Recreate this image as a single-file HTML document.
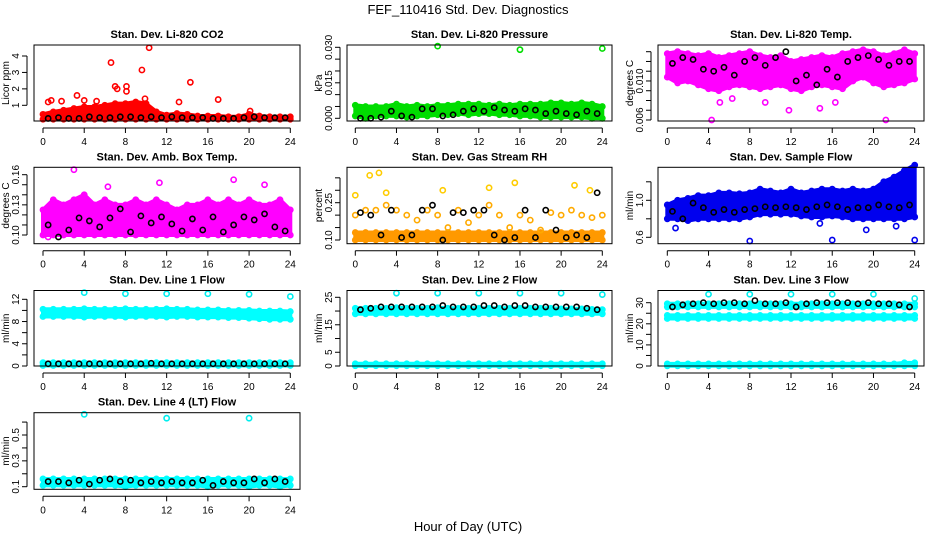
<!DOCTYPE html>
<html><head><meta charset="utf-8"><style>
html,body{margin:0;padding:0;background:#fff;width:936px;height:540px;overflow:hidden}
svg{display:block;font-family:"Liberation Sans",sans-serif}
</style></head><body>
<svg id="chart" width="936" height="540" viewBox="0 0 936 540">
<text x="468" y="14" text-anchor="middle" font-size="13">FEF_110416  Std. Dev. Diagnostics</text>
<text x="468" y="531" text-anchor="middle" font-size="13">Hour of Day (UTC)</text>
</svg>
<script>
// ---- data (hourly envelope at 0..24, black points at 0.5..23.5, outliers) ----
const hours = [0,1,2,3,4,5,6,7,8,9,10,11,12,13,14,15,16,17,18,19,20,21,22,23,24];
const halfHours = [0.5,1.5,2.5,3.5,4.5,5.5,6.5,7.5,8.5,9.5,10.5,11.5,12.5,13.5,14.5,15.5,16.5,17.5,18.5,19.5,20.5,21.5,22.5,23.5];
const xTicks = [0,4,8,12,16,20,24];

const co2Hi = [0.45,0.6,0.7,0.8,0.9,0.9,1.0,1.1,1.1,1.2,1.1,0.6,0.4,0.5,0.45,0.35,0.35,0.35,0.3,0.3,0.45,0.35,0.3,0.3,0.3];
const co2Lo = [0.15,0.15,0.15,0.15,0.15,0.15,0.15,0.15,0.15,0.15,0.15,0.15,0.15,0.15,0.15,0.15,0.15,0.15,0.15,0.15,0.15,0.15,0.15,0.15,0.15];
const co2Black = [0.2,0.25,0.2,0.2,0.3,0.25,0.25,0.3,0.3,0.25,0.3,0.25,0.3,0.25,0.25,0.25,0.2,0.2,0.2,0.25,0.3,0.25,0.25,0.25];
const co2OutX = [6.6,10.3,9.6,7,7.2,8.1,8.1,14.3,3.3,17,13.2,0.8,1.8,0.5,4,5.2,9.9,20.1];
const co2OutY = [3.6,4.5,3.15,2.15,2.0,2.15,1.85,2.4,1.6,1.35,1.2,1.3,1.25,1.2,1.3,1.25,1.4,0.65];

const presHi = [0.0055,0.005,0.005,0.005,0.006,0.005,0.0055,0.005,0.0055,0.0055,0.006,0.006,0.006,0.0055,0.006,0.0055,0.006,0.006,0.006,0.0065,0.0065,0.006,0.0065,0.006,0.005];
const presLo = [0.001,0,0.001,0.001,0.001,0.0005,0.001,0.001,0.0015,0.0015,0.002,0.0015,0.002,0.002,0.0015,0.0015,0.001,0.001,0.0005,0.0005,0.0005,0.0005,0.0005,0,0];
const presBlack = [0,0,0.0005,0.003,0.001,0.0005,0.004,0.004,0.001,0.0015,0.003,0.004,0.003,0.0045,0.0035,0.003,0.004,0.0035,0.002,0.003,0.002,0.0015,0.003,0.002];
const presOutX = [8,16,24];
const presOutY = [0.0305,0.029,0.0295];

const tempHi = [0.0094,0.0095,0.0094,0.0093,0.0094,0.0092,0.0093,0.0094,0.0095,0.0093,0.0092,0.0093,0.009,0.0091,0.0092,0.0093,0.0092,0.0094,0.0095,0.0096,0.0095,0.0093,0.0094,0.0096,0.0094];
const tempLo = [0.0082,0.0079,0.008,0.0078,0.0076,0.0075,0.0077,0.0078,0.0077,0.0076,0.0077,0.0078,0.0076,0.0075,0.0077,0.0078,0.0077,0.0076,0.008,0.0082,0.0079,0.0077,0.0078,0.0079,0.0081];
const tempBlack = [0.0089,0.0092,0.0091,0.0086,0.0085,0.0087,0.0083,0.009,0.0092,0.0088,0.0092,0.0095,0.008,0.0083,0.0078,0.0086,0.0082,0.009,0.0092,0.0093,0.0091,0.0088,0.009,0.009];
const tempOutX = [4.3,21.2,11.8,14.8,16.3,5.1,6.3,9.5,23.3];
const tempOutY = [0.006,0.006,0.0065,0.0066,0.0069,0.0069,0.0071,0.0069,0.0082];

const boxHi = [0.125,0.135,0.13,0.135,0.14,0.13,0.135,0.13,0.13,0.135,0.13,0.135,0.13,0.125,0.13,0.13,0.135,0.13,0.135,0.13,0.135,0.13,0.13,0.135,0.125];
const boxLo = [0.1,0.1,0.1,0.1,0.1,0.1,0.1,0.1,0.1,0.1,0.1,0.1,0.1,0.1,0.1,0.1,0.1,0.1,0.1,0.1,0.1,0.1,0.1,0.1,0.1];
const boxBlack = [0.11,0.098,0.105,0.117,0.114,0.108,0.117,0.126,0.103,0.119,0.112,0.118,0.111,0.104,0.116,0.105,0.118,0.103,0.11,0.118,0.115,0.121,0.108,0.104];
const boxOutX = [3,11.3,18.5,21.5,6.3,0.5];
const boxOutY = [0.165,0.152,0.155,0.15,0.148,0.098];

const rhHi = [0.13,0.13,0.13,0.13,0.13,0.13,0.13,0.13,0.13,0.13,0.13,0.13,0.13,0.13,0.13,0.13,0.13,0.13,0.13,0.13,0.13,0.13,0.13,0.13,0.13];
const rhLo = [0.1,0.1,0.1,0.1,0.1,0.1,0.1,0.1,0.1,0.1,0.1,0.1,0.1,0.1,0.1,0.1,0.1,0.1,0.1,0.1,0.1,0.1,0.1,0.1,0.1];
const rhMid = [0.2,0.22,0.22,0.24,0.22,0.2,0.18,0.22,0.2,0.15,0.22,0.17,0.2,0.24,0.2,0.15,0.2,0.18,0.14,0.21,0.2,0.22,0.2,0.19,0.2];
const rhBlack = [0.21,0.2,0.12,0.22,0.11,0.12,0.22,0.24,0.1,0.21,0.21,0.22,0.22,0.12,0.1,0.11,0.22,0.11,0.22,0.14,0.11,0.12,0.11,0.29];
const rhOutX = [1.4,2.3,0,3,15.5,8.5,13,21.3,22.8];
const rhOutY = [0.36,0.37,0.28,0.29,0.33,0.3,0.31,0.32,0.3];

const flowHi = [0.95,1.0,1.02,1.05,1.05,1.08,1.08,1.07,1.08,1.12,1.1,1.08,1.12,1.08,1.1,1.12,1.12,1.1,1.12,1.1,1.12,1.2,1.25,1.32,1.38];
const flowLo = [0.8,0.8,0.78,0.8,0.8,0.8,0.8,0.8,0.82,0.85,0.85,0.85,0.85,0.83,0.82,0.82,0.83,0.82,0.8,0.8,0.8,0.8,0.8,0.8,0.82];
const flowBlack = [0.88,0.8,0.97,0.92,0.87,0.9,0.87,0.9,0.91,0.93,0.92,0.93,0.92,0.9,0.93,0.95,0.93,0.9,0.92,0.92,0.95,0.93,0.92,0.95];
const flowOutX = [8,16,24,0.8,19.3,14.8,22.2];
const flowOutY = [0.56,0.57,0.57,0.7,0.68,0.75,0.72];

const l1Hi = [10.2,10.2,10.2,10.2,10.3,10.2,10.2,10.2,10.3,10.2,10.2,10.2,10.3,10.2,10.2,10.1,10.1,10.1,10.0,10.0,10.0,9.9,9.9,9.9,9.8];
const l1Lo = [8.9,8.9,8.9,8.9,8.8,8.9,8.9,8.9,8.8,8.9,8.9,8.9,8.8,8.9,8.9,8.8,8.8,8.8,8.7,8.7,8.6,8.5,8.4,8.4,8.4];
const l1ZeroHi = [0.6,0.6,0.6,0.6,0.6,0.6,0.6,0.6,0.6,0.6,0.6,0.6,0.6,0.6,0.6,0.6,0.6,0.6,0.6,0.6,0.6,0.6,0.6,0.6,0.6];
const l1ZeroLo = [0.1,0.1,0.1,0.1,0.1,0.1,0.1,0.1,0.1,0.1,0.1,0.1,0.1,0.1,0.1,0.1,0.1,0.1,0.1,0.1,0.1,0.1,0.1,0.1,0.1];
const l1Black = [0.4,0.4,0.4,0.4,0.4,0.4,0.4,0.4,0.4,0.4,0.5,0.4,0.4,0.4,0.4,0.4,0.4,0.4,0.4,0.4,0.4,0.4,0.4,0.4];
const l1OutX = [4,8,12,16,20,24];
const l1OutY = [13.2,13.0,13.0,13.0,12.9,12.5];

const l2Hi = [21,21,21,21,21.2,21,21,21,21.2,21,21,21,21,21,21,21,21,21,21,21,20.8,20.8,20.8,20.6,20.5];
const l2Lo = [19,19,19,19,19,19,19,19,19,19,19,19,19,19,19,19,19,19,19,19,19,19,19,19,19];
const l2ZeroHi = [0.8,0.8,0.8,0.8,0.8,0.8,0.8,0.8,0.8,0.8,0.8,0.8,0.8,0.8,0.8,0.8,0.8,0.8,0.8,0.8,0.8,0.8,0.8,0.8,0.8];
const l2ZeroLo = [0.1,0.1,0.1,0.1,0.1,0.1,0.1,0.1,0.1,0.1,0.1,0.1,0.1,0.1,0.1,0.1,0.1,0.1,0.1,0.1,0.1,0.1,0.1,0.1,0.1];
const l2Black = [20.5,21,21.5,21.5,21.5,21.5,21.5,21.5,22,21.5,21.5,21.5,22,22,21.5,22,22,21.5,21.5,21.5,21.5,21.5,21,20.5];
const l2OutX = [4,8,12,16,20,24];
const l2OutY = [26.5,26.5,26.5,26.5,26.5,26];

const l3Hi = [29.5,29.5,29.5,29.5,29.5,29.5,29.5,29.5,29.5,29.5,29.5,29.5,29.5,29.5,29.5,29.5,29.5,29.5,29.5,29.5,29.5,29.5,29.5,29.5,29.5];
const l3Lo = [28,28,28,28,28,28,28,28,28,28,28,28,28,28,28,28,28,28,28,28,28,28,28,28,28];
const l3MidHi = [24,24,24,24,24,24,24,24,24,24,24,24,24,24,24,24,24,24,24,24,24,24,24,24,24];
const l3MidLo = [22.5,22.5,22.5,22.5,22.5,22.5,22.5,22.5,22.5,22.5,22.5,22.5,22.5,22.5,22.5,22.5,22.5,22.5,22.5,22.5,22.5,22.5,22.5,22.5,22.5];
const l3ZeroHi = [1,1,1,1,1,1,1,1,1,1,1,1,1,1,1,1,1,1,1,1,1,1,1,1.5,1.5];
const l3ZeroLo = [0.1,0.1,0.1,0.1,0.1,0.1,0.1,0.1,0.1,0.1,0.1,0.1,0.1,0.1,0.1,0.1,0.1,0.1,0.1,0.1,0.1,0.1,0.1,0.1,0.1];
const l3Black = [28,29,29.5,30,29.5,30,30,29.5,31,29.5,29.5,30,28,29.5,30,30,30,30,29.5,30,29.5,29.5,29,28];
const l3OutX = [4,8,12,16,20,24];
const l3OutY = [34,34,34,34,34,32];

const l4Hi = [0.16,0.16,0.16,0.16,0.16,0.16,0.16,0.16,0.16,0.16,0.16,0.16,0.16,0.16,0.16,0.16,0.16,0.16,0.16,0.16,0.16,0.16,0.16,0.16,0.16];
const l4Lo = [0.11,0.11,0.11,0.11,0.11,0.11,0.11,0.11,0.1,0.11,0.11,0.11,0.11,0.11,0.11,0.11,0.1,0.11,0.11,0.11,0.1,0.11,0.11,0.1,0.11];
const l4Black = [0.14,0.14,0.13,0.15,0.12,0.15,0.16,0.14,0.15,0.13,0.14,0.13,0.14,0.13,0.13,0.15,0.11,0.14,0.13,0.13,0.16,0.13,0.16,0.14];
const l4OutX = [4,12,20];
const l4OutY = [0.66,0.63,0.63];

// ---- rendering ----
const svg = document.getElementById('chart');
const NS = 'http://www.w3.org/2000/svg';
function mk(tag, attrs, parent){const e=document.createElementNS(NS,tag);for(const k in attrs)e.setAttribute(k,attrs[k]);(parent||svg).appendChild(e);return e;}

const cols = [{x0:34,x1:300,a:43,b:290.3},{x0:347,x1:612,a:355.3,b:602.3},{x0:658,x1:924,a:667.3,b:914.7}];
const rows = [{y0:45,y1:121},{y0:167.3,y1:243.7},{y0:290.5,y1:366},{y0:412.7,y1:489.3}];

function panel(p){
  const c=cols[p.col], r=rows[p.row];
  const g=mk('g',{});
  
  
  const X=v=>c.a+(v/24)*(c.b-c.a);
  const Y=v=>p.p1+(v-p.v1)*(p.p2-p.p1)/(p.v2-p.v1);
  const t=mk('text',{x:(c.x0+c.x1)/2,y:r.y0-7,'text-anchor':'middle','font-size':11,'font-weight':'bold'},g);
  t.textContent=p.title;
  
  
  const yl=mk('text',{transform:`translate(${c.x0-25},${(r.y0+r.y1)/2}) rotate(-90)`,'text-anchor':'middle','font-size':10},g);
  yl.textContent=p.ylab;
  
  
  mk('line',{x1:X(0),x2:X(24),y1:r.y1+7,y2:r.y1+7,stroke:'#000'},g);
  xTicks.forEach(v=>{
    mk('line',{x1:X(v),x2:X(v),y1:r.y1+7,y2:r.y1+12,stroke:'#000'},g);
    const tx=mk('text',{x:X(v),y:r.y1+24,'text-anchor':'middle','font-size':10},g);
    tx.textContent=v;
    
    
  });
  mk('line',{x1:c.x0-7,x2:c.x0-7,y1:Y(p.ticks[0]),y2:Y(p.ticks[p.ticks.length-1]),stroke:'#000'},g);
  p.ticks.forEach((v,i)=>{
    mk('line',{x1:c.x0-12,x2:c.x0-7,y1:Y(v),y2:Y(v),stroke:'#000'},g);
    if(p.labels[i]){
      const ty=mk('text',{transform:`translate(${c.x0-15},${Y(v)}) rotate(-90)`,'text-anchor':'middle','font-size':10},g);
      ty.textContent=p.labels[i];
      
      
    }
  });
  const cg=mk('g',{},g);
  p.bands.forEach(b=>{
    let d='M'+hours.map((h,i)=>X(h)+','+Y(b.hi[i])).join('L');
    d+='L'+hours.slice().reverse().map((h,j)=>{const i=hours.length-1-j;return X(h)+','+Y(b.lo[i]);}).join('L')+'Z';
    const pa=mk('path',{d:d,fill:b.color,stroke:b.color,'stroke-width':4,'stroke-linejoin':'round'},cg);
    
    
    hours.forEach((h,i)=>{
      [b.hi[i],b.lo[i]].forEach(v=>{
        const ci=mk('circle',{cx:X(h),cy:Y(v),r:2.6,fill:'none',stroke:b.color,'stroke-width':1.6},cg);
        
        
      });
    });
  });
  (p.pts||[]).forEach(s=>{
    s.x.forEach((xv,i)=>{
      const ci=mk('circle',{cx:X(xv),cy:Y(s.y[i]),r:2.6,fill:'none',stroke:s.color,'stroke-width':1.6},cg);
      
      
    });
  });
  const box=mk('rect',{x:c.x0,y:r.y0,width:c.x1-c.x0,height:r.y1-r.y0,fill:'none',stroke:'#000','stroke-width':1},g);
  
  
}

const black='#000';
panel({name:'panel-co2',col:0,row:0,title:'Stan. Dev. Li-820 CO2',ylab:'Licor ppm',v1:1,p1:105.3,v2:4,p2:56,ticks:[1,2,3,4],labels:['1','2','3','4'],
  bands:[{hi:co2Hi,lo:co2Lo,color:'#ff0000'}],
  pts:[{x:co2OutX,y:co2OutY,color:'#ff0000',nm:'outlier-point'},{x:halfHours,y:co2Black,color:black,nm:'mean-point'}]});
panel({name:'panel-pressure',col:1,row:0,title:'Stan. Dev. Li-820 Pressure',ylab:'kPa',v1:0,p1:118.3,v2:0.03,p2:47.3,ticks:[0,0.005,0.01,0.015,0.02,0.025,0.03],labels:['0.000','','','0.015','','','0.030'],
  bands:[{hi:presHi,lo:presLo,color:'#00dd00'}],
  pts:[{x:presOutX,y:presOutY,color:'#00dd00',nm:'outlier-point'},{x:halfHours,y:presBlack,color:black,nm:'mean-point'}]});
panel({name:'panel-temp',col:2,row:0,title:'Stan. Dev. Li-820 Temp.',ylab:'degrees C',v1:0.006,p1:120,v2:0.0095,p2:51.7,ticks:[0.006,0.0065,0.007,0.0075,0.008,0.0085,0.009,0.0095],labels:['0.006','','','','0.010','','',''],
  bands:[{hi:tempHi,lo:tempLo,color:'#ff00ff'}],
  pts:[{x:tempOutX,y:tempOutY,color:'#ff00ff',nm:'outlier-point'},{x:halfHours,y:tempBlack,color:black,nm:'mean-point'}]});
panel({name:'panel-box-temp',col:0,row:1,title:'Stan. Dev. Amb. Box Temp.',ylab:'degrees C',v1:0.1,p1:235,v2:0.16,p2:174.7,ticks:[0.1,0.11,0.12,0.13,0.14,0.15,0.16],labels:['0.10','','','0.13','','','0.16'],
  bands:[{hi:boxHi,lo:boxLo,color:'#ff00ff'}],
  pts:[{x:boxOutX,y:boxOutY,color:'#ff00ff',nm:'outlier-point'},{x:halfHours,y:boxBlack,color:black,nm:'mean-point'}]});
panel({name:'panel-rh',col:1,row:1,title:'Stan. Dev. Gas Stream RH',ylab:'percent',v1:0.1,p1:240,v2:0.25,p2:202.7,ticks:[0.1,0.15,0.2,0.25,0.3,0.35],labels:['0.10','','','0.25','',''],
  bands:[{hi:rhHi,lo:rhLo,color:'#ff9900'}],
  pts:[{x:hours,y:rhMid,color:'#ffaa00',nm:'data-point'},{x:rhOutX,y:rhOutY,color:'#ffcc00',nm:'outlier-point'},{x:halfHours,y:rhBlack,color:black,nm:'mean-point'}]});
panel({name:'panel-sample-flow',col:2,row:1,title:'Stan. Dev. Sample Flow',ylab:'ml/min',v1:0.6,p1:237.3,v2:1.0,p2:200.3,ticks:[0.6,0.8,1.0,1.2],labels:['0.6','','1.0',''],
  bands:[{hi:flowHi,lo:flowLo,color:'#0000ee'}],
  pts:[{x:flowOutX,y:flowOutY,color:'#0000ee',nm:'outlier-point'},{x:halfHours,y:flowBlack,color:black,nm:'mean-point'}]});
panel({name:'panel-line1',col:0,row:2,title:'Stan. Dev. Line 1 Flow',ylab:'ml/min',v1:0,p1:366,v2:12,p2:299.3,ticks:[0,2,4,6,8,10,12],labels:['0','','4','','8','','12'],
  bands:[{hi:l1Hi,lo:l1Lo,color:'#00ffff'},{hi:l1ZeroHi,lo:l1ZeroLo,color:'#00ffff'}],
  pts:[{x:l1OutX,y:l1OutY,color:'#00eeee',nm:'outlier-point'},{x:halfHours,y:l1Black,color:black,nm:'mean-point'}]});
panel({name:'panel-line2',col:1,row:2,title:'Stan. Dev. Line 2 Flow',ylab:'ml/min',v1:0,p1:366,v2:25,p2:297.3,ticks:[0,5,10,15,20,25],labels:['0','5','','15','','25'],
  bands:[{hi:l2Hi,lo:l2Lo,color:'#00ffff'},{hi:l2ZeroHi,lo:l2ZeroLo,color:'#00ffff'}],
  pts:[{x:l2OutX,y:l2OutY,color:'#00eeee',nm:'outlier-point'},{x:halfHours,y:l2Black,color:black,nm:'mean-point'}]});
panel({name:'panel-line3',col:2,row:2,title:'Stan. Dev. Line 3 Flow',ylab:'ml/min',v1:0,p1:366,v2:30,p2:302.7,ticks:[0,5,10,15,20,25,30],labels:['0','','10','','20','','30'],
  bands:[{hi:l3Hi,lo:l3Lo,color:'#00ffff'},{hi:l3MidHi,lo:l3MidLo,color:'#00ffff'},{hi:l3ZeroHi,lo:l3ZeroLo,color:'#00ffff'}],
  pts:[{x:l3OutX,y:l3OutY,color:'#00eeee',nm:'outlier-point'},{x:halfHours,y:l3Black,color:black,nm:'mean-point'}]});
panel({name:'panel-line4',col:0,row:3,title:'Stan. Dev. Line 4 (LT) Flow',ylab:'ml/min',v1:0.1,p1:486.7,v2:0.5,p2:435,ticks:[0.1,0.2,0.3,0.4,0.5,0.6],labels:['0.1','','0.3','','0.5',''],
  bands:[{hi:l4Hi,lo:l4Lo,color:'#00ffff'}],
  pts:[{x:l4OutX,y:l4OutY,color:'#00eeee',nm:'outlier-point'},{x:halfHours,y:l4Black,color:black,nm:'mean-point'}]});
</script>
</body></html>
